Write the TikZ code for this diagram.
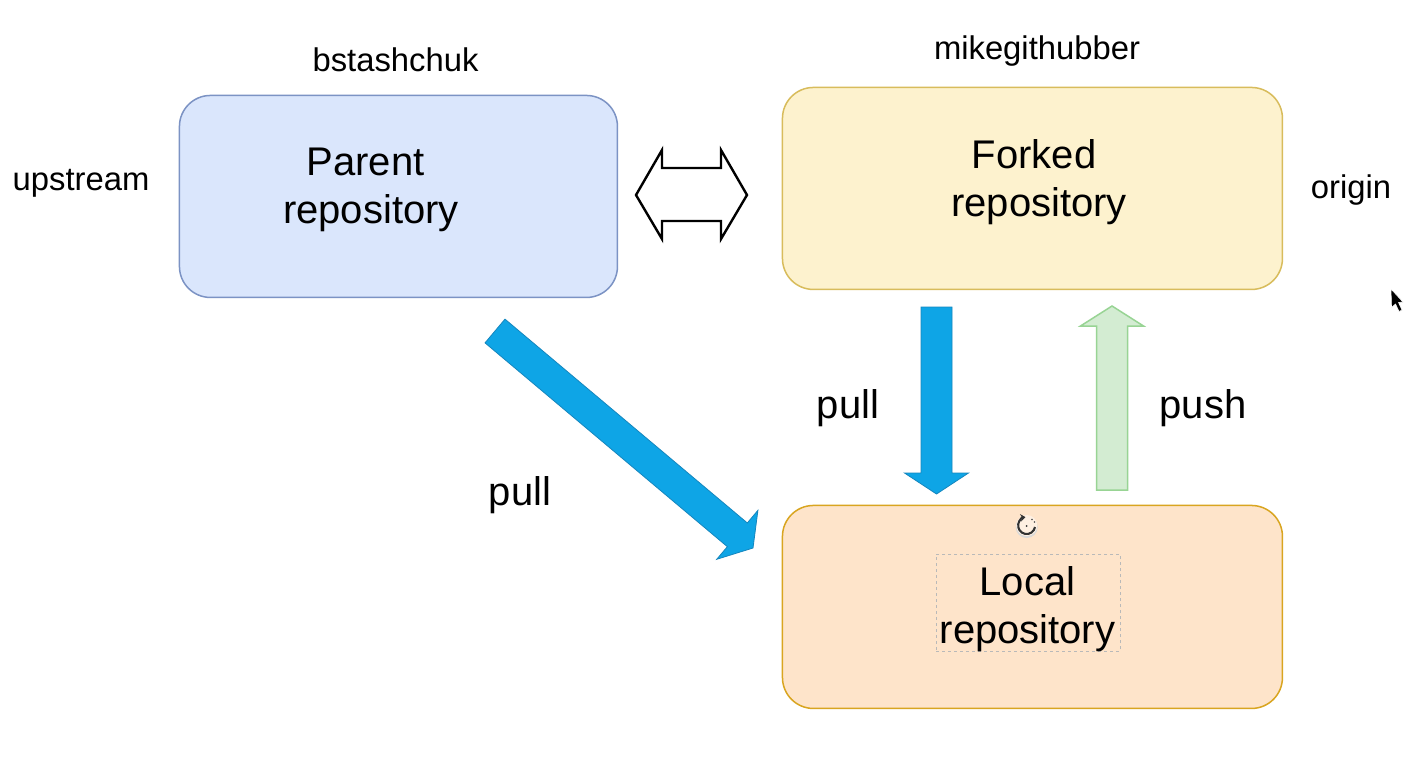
\documentclass[tikz,border=0pt]{standalone}
\usepackage{fontspec}
\setmainfont{Liberation Sans}
\usetikzlibrary{calc,arrows.meta}
\definecolor{parentfill}{HTML}{DAE6FC}
\definecolor{parentline}{HTML}{7C93C4}
\definecolor{forkfill}{HTML}{FDF2CE}
\definecolor{forkline}{HTML}{D8BC5C}
\definecolor{localfill}{HTML}{FEE4CA}
\definecolor{localline}{HTML}{D9A520}
\definecolor{pullfill}{HTML}{0EA5E6}
\definecolor{pullline}{HTML}{1586BE}
\definecolor{pushfill}{HTML}{D3ECD2}
\definecolor{pushline}{HTML}{98D494}
\tikzset{
  repobox/.style={draw=#1line,fill=#1fill,line width=1.5pt,rounded corners=31pt,inner sep=0pt,anchor=north west},
  bigtext/.style={font=\fontsize{40}{48}\selectfont,align=center,inner sep=0pt,text=black},
  smalltext/.style={font=\fontsize{32.8}{38}\selectfont,inner sep=0pt,text=black},
  pullarrow/.style={draw=pullline,fill=pullfill,line width=.8pt,line join=miter},
  pusharrow/.style={draw=pushline,fill=pushfill,line width=1.5pt,line join=miter},
  bothways/.style={draw=black,fill=white,line width=2.4pt,line join=miter},
}
\newcommand{\blockarrow}[6]{%
  \coordinate (neck) at ($(#3)!#6pt!(#2)$);
  \draw[#1] ($(#2)!#4pt!90:(#3)$) -- ($(neck)!#4pt!90:(#3)$) -- ($(neck)!#5pt!90:(#3)$)
    -- (#3) -- ($(neck)!#5pt!-90:(#3)$) -- ($(neck)!#4pt!-90:(#3)$) -- ($(#2)!#4pt!-90:(#3)$) -- cycle;
}
\begin{document}
\begin{tikzpicture}[x=1pt,y=-1pt]
\useasboundingbox[fill=white] (0,0) rectangle (1415,769);

% repositories
\node[repobox=parent,minimum width=438pt,minimum height=202pt] (parent) at (178.7,94.7) {};
\node[repobox=fork,minimum width=500pt,minimum height=202pt] (forked) at (781.7,86.7) {};
\node[repobox=local,minimum width=500pt,minimum height=203pt] (local) at (781.7,504.7) {};

% repository texts
\node[bigtext] (parenttext) at (371,190) {Parent\hspace*{11pt}\\repository};
\node[bigtext] (forkedtext) at (1039,182) {Forked\hspace*{10pt}\\repository};
\node[draw=gray!55,dashed,line width=.8pt,minimum width=184pt,minimum height=97pt,inner sep=0pt] (localsel) at (1028,602.5) {};
\node[bigtext] (localtext) at (1027.5,609) {Local\\repository};

% side labels
\node[smalltext] (bst) at (395.5,59.5) {bstashchuk};
\node[smalltext] (mike) at (1037,51) {mikegithubber};
\node[smalltext] (up) at (81,183) {upstream};
\node[smalltext] (orig) at (1351,190) {origin};
\node[bigtext] (pullA) at (520,495) {pull};
\node[bigtext] (pullB) at (848,408) {pull};
\node[bigtext] (pushA) at (1203,408) {push};

% two-way arrow between parent and fork
\coordinate (dl) at (636,195);
\coordinate (dr) at (747,195);
\draw[bothways] (dl) -- ($(dl)+(26,-45)$) -- ($(dl)+(26,-27)$) -- ($(dr)+(-26,-27)$) -- ($(dr)+(-26,-45)$)
  -- (dr) -- ($(dr)+(-26,44)$) -- ($(dr)+(-26,26)$) -- ($(dl)+(26,26)$) -- ($(dl)+(26,44)$) -- cycle;

% pull from parent to local
\coordinate (dtail) at (495,331);
\coordinate (dtip) at (753,548);
\blockarrow{pullarrow}{dtail}{dtip}{15.5}{32}{20.5}

% pull from fork to local
\coordinate (vtail) at (936.5,307);
\coordinate (vtip) at (936.5,494);
\blockarrow{pullarrow}{vtail}{vtip}{15.5}{32}{21}

% push from local to fork
\coordinate (ptail) at (1112,490);
\coordinate (ptip) at (1112,306);
\blockarrow{pusharrow}{ptail}{ptip}{15.5}{31.5}{20}

% rotation handle
\node[circle,fill=gray!30,minimum size=22pt,inner sep=0pt] (rothalo) at (1026.7,527) {};
\node[circle,fill=localfill!55!white,minimum size=21pt,inner sep=0pt] (rotbg) at (1026.7,525.5) {};
\draw[line width=2.1pt,black!80,-{Stealth[length=5pt,width=7.5pt]}] (1035,527) arc[start angle=-10,end angle=-262,radius=8.5pt];
\fill[black!80] (1026.7,526) circle (1pt);
\fill[black!70] (1032,519.5) circle (.8pt) (1034.5,522) circle (.8pt);

% mouse pointer
\draw[fill=black,draw=white,line width=.6pt,line join=round] (1391,289) -- (1403,302) -- (1398.5,302.5) -- (1402,310) -- (1399,311.5) -- (1395.5,304) -- (1391.5,307.5) -- cycle;
\end{tikzpicture}
\end{document}
